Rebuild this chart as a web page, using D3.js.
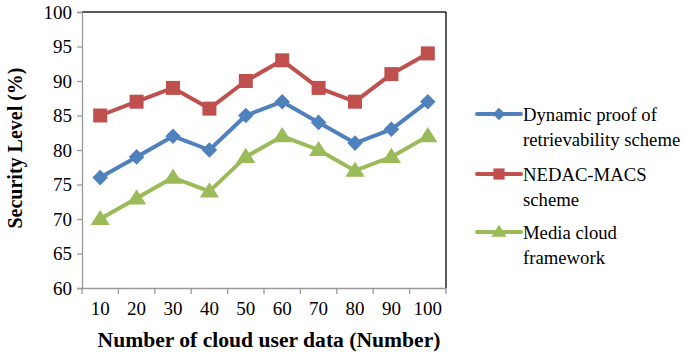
<!DOCTYPE html>
<html><head><meta charset="utf-8">
<script src="https://cdn.jsdelivr.net/npm/d3@7"></script>
<style>body{margin:0;background:#fff}</style>
</head><body>
<svg id="c" width="684" height="355"></svg>
<script>
const categories = ["10","20","30","40","50","60","70","80","90","100"];
const dynamicPoR = [76,79,82,80,85,87,84,81,83,87];
const nedacMacs = [85,87,89,86,90,93,89,87,91,94];
const mediaCloud = [70,73,76,74,79,82,80,77,79,82];
const yTicks = [60,65,70,75,80,85,90,95,100];
const seriesNames = [["Dynamic proof of","retrievability scheme"],["NEDAC-MACS","scheme"],["Media cloud","framework"]];

const FONT = "'Liberation Serif','Times New Roman',Times,serif";
const series = [
  {vals: dynamicPoR, color:"#4F81BD", shape:"diamond", name:seriesNames[0]},
  {vals: nedacMacs, color:"#C0504D", shape:"square", name:seriesNames[1]},
  {vals: mediaCloud, color:"#9BBB59", shape:"triangle", name:seriesNames[2]}
];
const svg = d3.select("#c");
const L=82,R=446,T=12,B=288;
const x = d3.scaleBand().domain(categories).range([L,R]);
const y = d3.scaleLinear().domain([60,100]).range([B,T]);

svg.append("line").attr("x1",L).attr("x2",R).attr("y1",T).attr("y2",T).attr("stroke","#222").attr("stroke-width",1.5);
svg.append("line").attr("x1",R).attr("x2",R).attr("y1",T).attr("y2",B).attr("stroke","#222").attr("stroke-width",1.5);

const yAx = svg.append("g").attr("transform",`translate(${L},0)`).call(d3.axisLeft(y).tickValues(yTicks).tickSize(5).tickPadding(5));
yAx.selectAll("path,line").attr("stroke","#999").attr("stroke-width",1.3);
yAx.selectAll("text").style("font-size","19px").style("font-family",FONT).attr("dy","0.34em");

const xAx = svg.append("g").attr("transform",`translate(0,${B})`).call(d3.axisBottom(x).tickSize(0).tickPadding(14));
xAx.select("path").attr("stroke","#999").attr("stroke-width",1.3);
xAx.selectAll("text").style("font-size","19px").style("font-family",FONT);
xAx.selectAll(".bt").data(d3.range(categories.length+1)).enter().append("line")
  .attr("x1",i=>L+i*x.step()).attr("x2",i=>L+i*x.step()).attr("y1",0).attr("y2",6).attr("stroke","#999").attr("stroke-width",1.3);

function marker(shape, s){
  if(shape==="diamond") return d3.symbol().type(d3.symbolSquare).size(s*s)();
  if(shape==="square") return d3.symbol().type(d3.symbolSquare).size(s*s)();
  const h=s*0.95, w=s*1.2;
  return `M0,${-h*0.6}L${w/2},${h*0.4}L${-w/2},${h*0.4}Z`;
}
const msz = {diamond:11, square:14, triangle:16};
const line = d3.line().x((d,i)=>x(categories[i])+x.bandwidth()/2).y(d=>y(d));
series.forEach(s=>{
  svg.append("path").attr("d",line(s.vals)).attr("fill","none").attr("stroke",s.color).attr("stroke-width",4).attr("stroke-linejoin","round");
  svg.selectAll(null).data(s.vals).enter().append("path")
    .attr("d",marker(s.shape,msz[s.shape]))
    .attr("transform",(d,i)=>`translate(${x(categories[i])+x.bandwidth()/2},${y(d)})`+(s.shape==="diamond"?" rotate(45)":""))
    .attr("fill",s.color);
});

const legY=[114,174,232];
series.forEach((s,k)=>{
  const g=svg.append("g").attr("transform",`translate(0,${legY[k]})`);
  g.append("line").attr("x1",477).attr("x2",521).attr("y1",0).attr("y2",0).attr("stroke",s.color).attr("stroke-width",4).attr("stroke-linecap","round");
  g.append("path").attr("d",marker(s.shape,msz[s.shape]*0.8)).attr("transform","translate(499,0)"+(s.shape==="diamond"?" rotate(45)":"")).attr("fill",s.color);
  s.name.forEach((t,j)=>g.append("text").attr("x",523).attr("y",7+j*25).style("font-size","18.7px").style("font-family",FONT).text(t));
});

svg.append("text").attr("x",269).attr("y",347).attr("text-anchor","middle").style("font-size","21.6px").style("font-weight","bold").style("font-family",FONT).text("Number of cloud user data (Number)");
svg.append("text").attr("transform","translate(22,148) rotate(-90)").attr("text-anchor","middle").style("font-size","20px").style("font-weight","bold").style("font-family",FONT).text("Security Level (%)");
</script></body></html>
